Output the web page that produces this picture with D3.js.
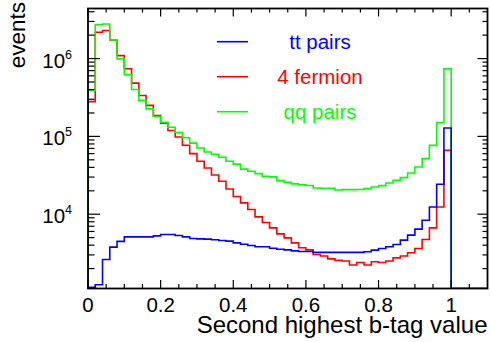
<!DOCTYPE html>
<html>
<head>
<meta charset="utf-8">
<script src="https://cdn.jsdelivr.net/npm/d3@7"></script>
<style>
    html, body { margin: 0; padding: 0; background: #fff; }
    svg { display: block; font-family: "Liberation Sans", Arial, sans-serif; }
</style>
</head>
<body>
<div id="chart"></div>
<script>
// 55 bins of width 0.02 from 0 to 1.1
const ttPairs = [
    1150, 1240, 2620, 3780, 4470, 5110, 5110, 5110, 5110, 5270,
    5490, 5490, 5330, 5110, 4880, 4820, 4780, 4690, 4590, 4510,
    4280, 4120, 3960, 3810, 3810, 3660, 3550, 3480, 3380, 3310,
    3310, 3230, 3230, 3230, 3230, 3230, 3230, 3230, 3290, 3450,
    3630, 3810, 4080, 4640, 5380, 6430, 8380, 12400, 24300, 128000,
    0, 0, 0, 0, 0
];
const fourFermion = [
    280000, 2180000, 2290000, 1740000, 1090000, 740000, 483000, 336000, 250000, 185000,
    148000, 119000, 98000, 77000, 60000, 48000, 39300, 31900, 26500, 21100,
    16900, 14000, 11500, 9230, 7810, 6680, 5590, 4970, 4280, 3700,
    3480, 3040, 2900, 2670, 2550, 2500, 2220, 2400, 2220, 2450,
    2400, 2500, 2750, 2900, 3190, 3630, 4730, 6680, 12400, 66200,
    0, 0, 0, 0, 0
];
const qqPairs = [
    390000, 2730000, 2780000, 1740000, 990000, 620000, 400000, 290000, 226000, 180000,
    152000, 131000, 112000, 96000, 82000, 71000, 63000, 59000, 54000, 48000,
    44000, 38000, 35600, 33200, 30700, 30200, 27000, 25700, 24500, 23800,
    23400, 21700, 21600, 21600, 20500, 20700, 20700, 20800, 21300, 22400,
    23300, 25200, 27300, 29500, 33900, 40500, 51800, 76700, 151000, 738000,
    0, 0, 0, 0, 0
];
const binWidth = 0.02;

const legendNames = ["tt pairs", "4 fermion", "qq pairs"];
const xMajorTicks = [0, 0.2, 0.4, 0.6, 0.8, 1];
const xTickLabels = ["0", "0.2", "0.4", "0.6", "0.8", "1"];
const yMajorExponents = [4, 5, 6];
const xTitle = "Second highest b-tag value";
const yTitle = "events";

const width = 490, height = 342;
const frame = { left: 88, right: 487.5, top: 8.5, bottom: 288.5 };

const svg = d3.select("#chart").append("svg")
    .attr("width", width)
    .attr("height", height);

const x = d3.scaleLinear().domain([0, 1.1]).range([frame.left, frame.right]);
const y = d3.scaleLog().domain([1110, 4.4e6]).range([frame.bottom, frame.top]);

svg.append("clipPath").attr("id", "plot-clip")
    .append("rect")
    .attr("x", frame.left).attr("y", frame.top)
    .attr("width", frame.right - frame.left)
    .attr("height", frame.bottom - frame.top);

/* ---------- histograms ---------- */

function stepPath(values) {
    const yv = (v) => (v > 0 ? y(Math.max(v, y.domain()[0])) : frame.bottom);
    let d = `M${x(0)},${frame.bottom}`;
    values.forEach((v, i) => {
        d += `L${x(i * binWidth)},${yv(v)}L${x((i + 1) * binWidth)},${yv(v)}`;
    });
    d += `L${x(values.length * binWidth)},${frame.bottom}`;
    return d;
}

const series = [
    { name: legendNames[1], values: fourFermion, color: "#ff0000" },
    { name: legendNames[2], values: qqPairs, color: "#00ff00" },
    { name: legendNames[0], values: ttPairs, color: "#0000ff" },
];

svg.append("g").attr("clip-path", "url(#plot-clip)")
    .selectAll("path")
    .data(series)
    .join("path")
    .attr("d", (s) => stepPath(s.values))
    .attr("fill", "none")
    .attr("stroke", (s) => s.color)
    .attr("stroke-width", 1.6);

/* ---------- frame + ticks ---------- */

const axes = svg.append("g").attr("stroke", "#000").attr("stroke-width", 1.2);

const xMinor = d3.range(0, 22).map((i) => i * 0.05).filter((v) => v <= 1.1);
const xMajorSet = new Set(xMajorTicks.map((v) => v.toFixed(2)));

axes.selectAll(".xtick")
    .data(xMinor)
    .join("line")
    .attr("x1", (d) => x(d)).attr("x2", (d) => x(d))
    .attr("y1", frame.bottom)
    .attr("y2", (d) => frame.bottom - (xMajorSet.has(d.toFixed(2)) ? 8.5 : 4.5));

axes.selectAll(".xtick-top")
    .data(xMinor)
    .join("line")
    .attr("x1", (d) => x(d)).attr("x2", (d) => x(d))
    .attr("y1", frame.top)
    .attr("y2", (d) => frame.top + (xMajorSet.has(d.toFixed(2)) ? 8 : 4));

const yTicks = [];
for (let e = 3; e <= 6; e++) {
    for (let k = 1; k <= 9; k++) {
        const v = k * Math.pow(10, e);
        if (v >= y.domain()[0] && v <= y.domain()[1]) yTicks.push({ v, major: k === 1 });
    }
}

axes.selectAll(".ytick")
    .data(yTicks)
    .join("line")
    .attr("x1", frame.left)
    .attr("x2", (d) => frame.left + (d.major ? 12 : 6.5))
    .attr("y1", (d) => y(d.v)).attr("y2", (d) => y(d.v));

axes.selectAll(".ytick-right")
    .data(yTicks)
    .join("line")
    .attr("x1", frame.right)
    .attr("x2", (d) => frame.right - (d.major ? 10 : 5))
    .attr("y1", (d) => y(d.v)).attr("y2", (d) => y(d.v));

svg.append("rect")
    .attr("x", frame.left).attr("y", frame.top)
    .attr("width", frame.right - frame.left)
    .attr("height", frame.bottom - frame.top)
    .attr("fill", "none")
    .attr("stroke", "#000")
    .attr("stroke-width", 1.8);

/* ---------- labels ---------- */

svg.append("g")
    .selectAll("text")
    .data(xMajorTicks)
    .join("text")
    .attr("x", (d) => x(d))
    .attr("y", 311.5)
    .attr("text-anchor", "middle")
    .attr("font-size", 20.5)
    .text((d, i) => xTickLabels[i]);

const yLabels = svg.append("g")
    .selectAll("text")
    .data(yMajorExponents)
    .join("text")
    .attr("x", 72)
    .attr("y", (e) => y(Math.pow(10, e)) + 9)
    .attr("text-anchor", "end")
    .attr("font-size", 20.5);

yLabels.append("tspan").text("10");
yLabels.append("tspan")
    .attr("dy", -9)
    .attr("font-size", 12.5)
    .text((e) => e);

svg.append("text")
    .attr("x", frame.right)
    .attr("y", 333)
    .attr("text-anchor", "end")
    .attr("font-size", 24)
    .text(xTitle);

svg.append("text")
    .attr("transform", "translate(25,2) rotate(-90)")
    .attr("text-anchor", "end")
    .attr("font-size", 22.5)
    .text(yTitle);

/* ---------- legend ---------- */

const legendRows = [
    { name: legendNames[0], color: "#0000ff" },
    { name: legendNames[1], color: "#ff0000" },
    { name: legendNames[2], color: "#00ff00" },
];

const legend = svg.append("g")
    .selectAll("g")
    .data(legendRows)
    .join("g")
    .attr("transform", (d, i) => `translate(0,${41.7 + i * 35})`);

legend.append("line")
    .attr("x1", 217).attr("x2", 248)
    .attr("stroke", (d) => d.color)
    .attr("stroke-width", 1.6);

legend.append("text")
    .attr("x", 320)
    .attr("y", 7)
    .attr("text-anchor", "middle")
    .attr("font-size", 20.5)
    .attr("fill", (d) => d.color)
    .text((d) => d.name);
</script>
</body>
</html>
